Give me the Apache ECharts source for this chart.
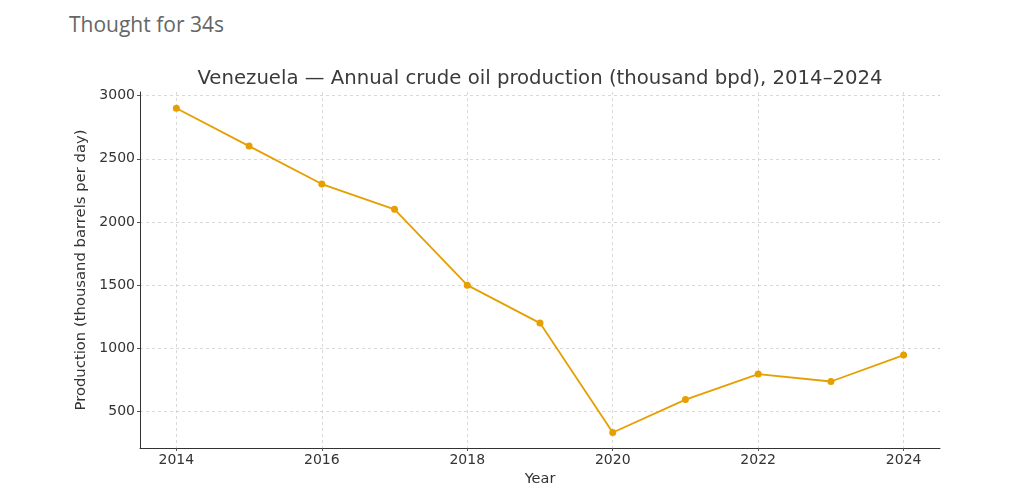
<!DOCTYPE html>
<html lang="en">
<head>
    <meta charset="UTF-8">
    <script src="https://cdn.jsdelivr.net/npm/echarts@6/dist/echarts.min.js"></script>
    <title>Venezuela crude oil production</title>
    <style>
        body { margin: 0; background: #fff; }
        #note { position: absolute; left: 69px; top: 10px; font-family: "Open Sans", "Noto Sans", sans-serif; font-size: 21px; color: #666; }
        #chart { width: 1024px; height: 501px; }
    </style>
</head>
<body>
<div id="note">Thought for 34s</div>
<div id="chart"></div>
<script type="text/javascript">
    var years = [2014, 2015, 2016, 2017, 2018, 2019, 2020, 2021, 2022, 2023, 2024];
    var production = [2900, 2600, 2300, 2100, 1500, 1200, 335, 595, 797, 738, 947];
    var xTicks = [2014, 2016, 2018, 2020, 2022, 2024];
    var yTicks = [500, 1000, 1500, 2000, 2500, 3000];

    var points = years.map(function (y, i) { return [y, production[i]]; });
    var font = 'DejaVu Sans';
    var plain = function (v) { return String(v); };

    var chart = echarts.init(document.getElementById('chart'));
    chart.setOption({
        animation: false,
        title: {
            text: 'Venezuela — Annual crude oil production (thousand bpd), 2014–2024',
            left: 535,
            textAlign: 'center',
            top: 64,
            textStyle: { fontFamily: font, fontSize: 19.7, fontWeight: 'normal', color: '#3a3a3a' }
        },
        grid: { left: 140, right: 84, top: 92, bottom: 53 },
        xAxis: {
            type: 'value',
            min: 2013.5,
            max: 2024.5,
            name: 'Year',
            nameLocation: 'middle',
            nameGap: 24,
            nameTextStyle: { fontFamily: font, fontSize: 14.5, color: '#333' },
            axisLine: { onZero: false, lineStyle: { color: '#333', width: 1 } },
            axisTick: { customValues: xTicks, length: 3, lineStyle: { color: '#555' } },
            axisLabel: { customValues: xTicks, formatter: plain, fontFamily: font, fontSize: 14, color: '#333', margin: 5 },
            splitLine: { show: true, lineStyle: { color: '#d0d0d0', type: [3, 3], width: 0.8 } }
        },
        yAxis: {
            type: 'value',
            min: 212,
            max: 3028,
            name: 'Production (thousand barrels per day)',
            nameLocation: 'middle',
            nameGap: 49,
            nameTextStyle: { fontFamily: font, fontSize: 14.8, color: '#333' },
            axisLine: { show: true, lineStyle: { color: '#333', width: 1 } },
            axisTick: { show: true, customValues: yTicks, length: 3, lineStyle: { color: '#555' } },
            axisLabel: { customValues: yTicks, formatter: plain, fontFamily: font, fontSize: 14, color: '#333', margin: 5 },
            splitLine: { show: true, lineStyle: { color: '#d0d0d0', type: [3, 3], width: 0.8 } }
        },
        series: [
            {
                type: 'line',
                data: points,
                symbol: 'circle',
                symbolSize: 7,
                itemStyle: { color: '#E69F00' },
                lineStyle: { color: '#E69F00', width: 1.8 }
            }
        ]
    });
</script>
</body>
</html>
